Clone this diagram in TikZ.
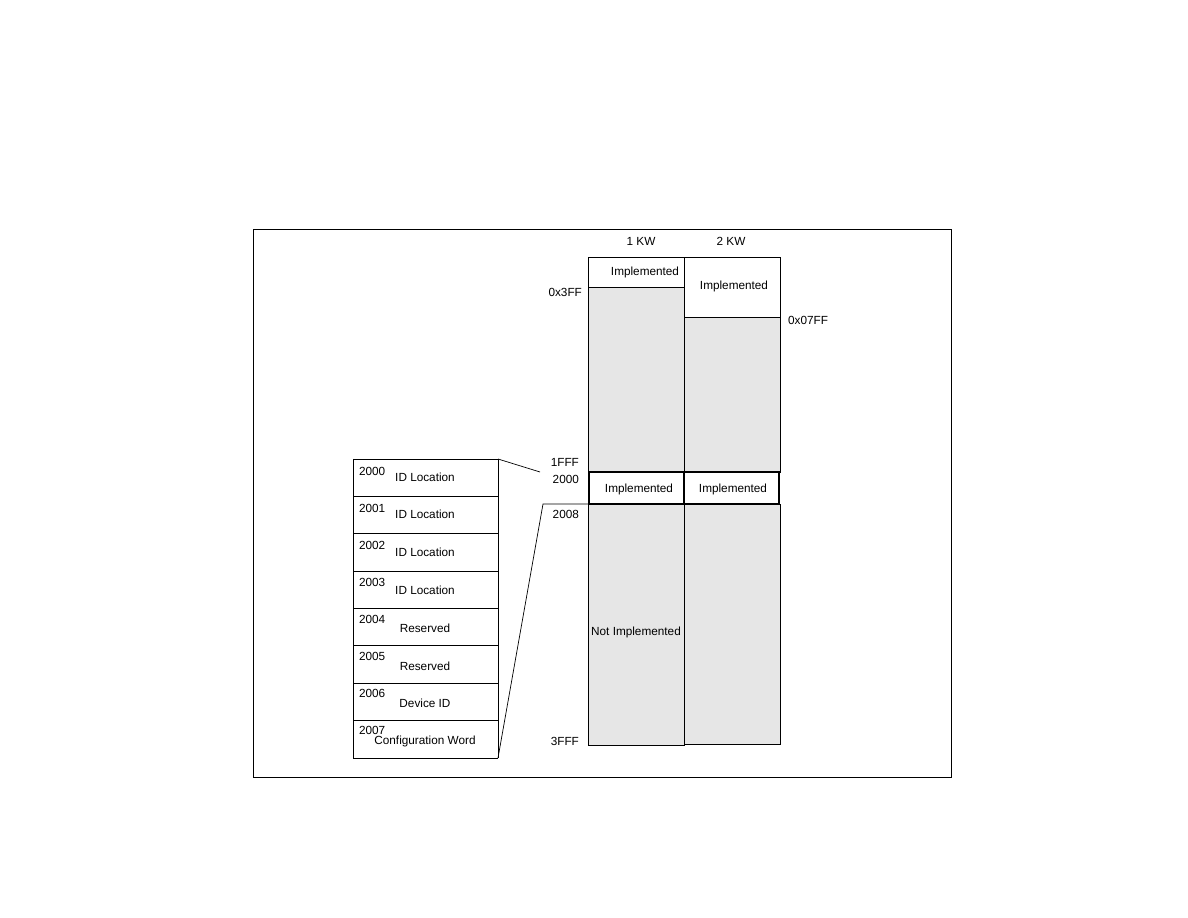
\documentclass[tikz,border=0pt]{standalone}
\usepackage{fontspec}
\setmainfont{Liberation Sans}
\definecolor{memgray}{RGB}{230,230,230}
\tikzset{
  lbl/.style={font=\fontsize{6.7}{8}\selectfont, inner sep=1pt},
  blk/.style={draw=black, line width=0.5pt},
}
\begin{document}
\begin{tikzpicture}[x=0.02cm,y=-0.02cm]
    \useasboundingbox (0,0) rectangle (1188,918);
    % Frame
    \draw[line width=0.4pt] (253,229) rectangle (951,777);

    % Column headings
    \node[lbl] (kw1) at (641,241) {1 KW};
    \node[lbl] (kw2) at (731,241) {2 KW};

    % 1 KW column
    \draw[blk] (588,257) rectangle (684,287);
    \filldraw[blk,fill=memgray] (588,287) rectangle (684,472);
    \node[lbl] (imp1) at (645,272) {Implemented};

    % 2 KW column
    \draw[blk] (684,257) rectangle (780,317);
    \filldraw[blk,fill=memgray] (684,317) rectangle (780,472);
    \node[lbl] (imp2) at (734,286) {Implemented};

    % Configuration row
    \draw[blk,line width=0.8pt] (589,472) rectangle (684,504);
    \draw[blk,line width=0.8pt] (684,472) rectangle (779,504);
    \node[lbl] (cfg1) at (639,489) {Implemented};
    \node[lbl] (cfg2) at (733,489) {Implemented};

    % Lower area
    \filldraw[blk,fill=memgray] (588,504) rectangle (684,745);
    \filldraw[blk,fill=memgray] (684,504) rectangle (780,744);
    \node[lbl] (notimp) at (636,632) {Not Implemented};

    % Addresses
    \node[lbl,anchor=east] (a3ff) at (584,292) {0x3FF};
    \node[lbl,anchor=west] (a7ff) at (786,320) {0x07FF};
    \node[lbl,anchor=east] (a1fff) at (581,462) {1FFF};
    \node[lbl,anchor=east] (a2000) at (581,479) {2000};
    \node[lbl,anchor=east] (a2008) at (581,514) {2008};
    \node[lbl,anchor=east] (a3fff) at (581,741) {3FFF};

    % Configuration memory detail
    \draw[blk] (353,459) -- (353,758) (498,459) -- (498,758);
    \foreach \i/\addr/\txt in {0/2000/ID Location,1/2001/ID Location,
        2/2002/ID Location,3/2003/ID Location,4/2004/Reserved,
        5/2005/Reserved,6/2006/Device ID,7/2007/Configuration Word} {
      \draw[blk] (353,459+37.375*\i) -- (498,459+37.375*\i);
      \node[lbl,anchor=west] (n\i) at (357,471+37.375*\i-\i*0.3) {\addr};
      \node[lbl] (t\i) at (425,477+37.375*\i+\i*0.4) {\txt};
    }
    \draw[blk] (353,758) -- (498,758);

    % Zoom lines
    \coordinate (tl) at (498,459);
    \coordinate (tr) at (540,472);
    \coordinate (bl) at (498,758);
    \coordinate (bm) at (543,504);
    \coordinate (br) at (588,504);
    \draw[line width=0.4pt] (tl) -- (tr);
    \draw[line width=0.4pt] (bl) -- (bm) -- (br);
\end{tikzpicture}
\end{document}
